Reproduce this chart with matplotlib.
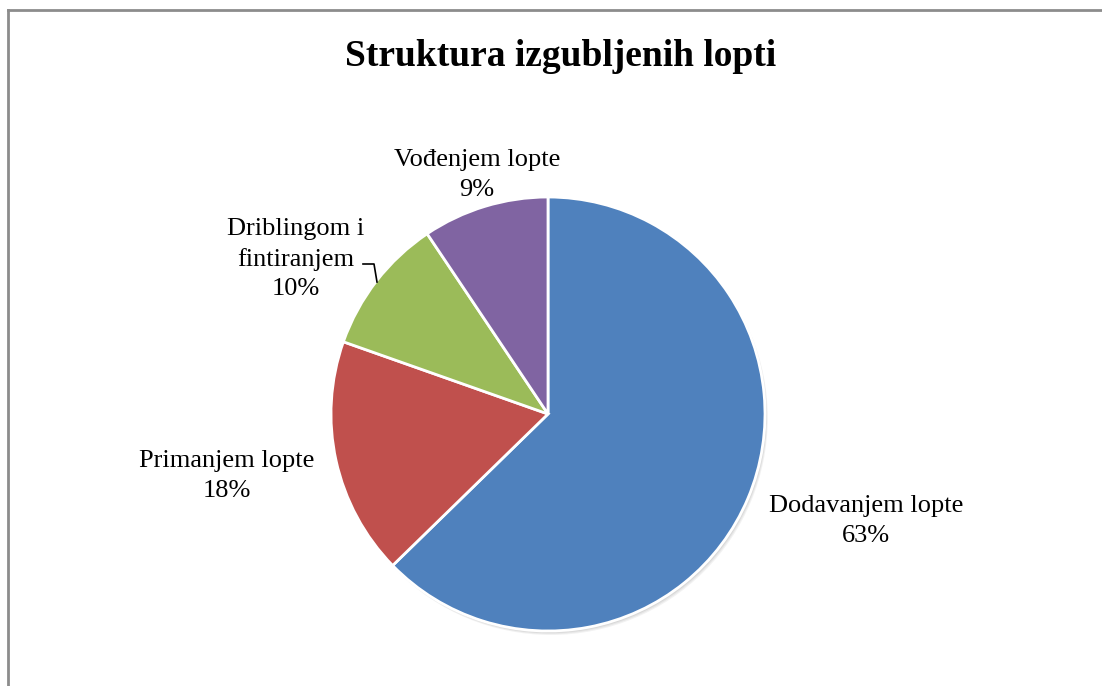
import matplotlib.pyplot as plt
from matplotlib.lines import Line2D

# data
categories = ["Dodavanjem lopte", "Primanjem lopte", "Driblingom i\nfintiranjem", "Vođenjem lopte"]
shares = [62.7, 17.7, 10.2, 9.4]
colors = ["#4F81BD", "#C0504D", "#9BBB59", "#8064A2"]

W, H = 1102, 686
plt.rcParams['font.family'] = ['Liberation Serif', 'DejaVu Serif']

fig = plt.figure(figsize=(W / 100, H / 100), dpi=100)
ax = fig.add_axes([0, 0, 1, 1])

cx, cy, r = 548, H - 414, 217

# soft shadow
for k, a in [(4, 0.05), (3, 0.05), (2, 0.06)]:
    ax.add_patch(plt.Circle((cx + k * 0.7, cy - k), r, color="black", alpha=a, lw=0, zorder=0))

ax.pie(shares, colors=colors, startangle=90, counterclock=False,
       center=(cx, cy), radius=r, frame=True,
       wedgeprops=dict(edgecolor="white", linewidth=2))
ax.set_xlim(0, W)
ax.set_ylim(0, H)
ax.set_aspect("equal")
ax.axis("off")

# label positions (px from top-left)
label_pos = [(866, 521), (227, 476), (296, 259), (477, 175)]
for name, v, (x, y) in zip(categories, shares, label_pos):
    ax.text(x, H - y, f"{name}\n{round(v)}%", ha="center", va="center",
            fontsize=19, linespacing=1.45)

# leader line for small slice
ax.plot([363, 374, 377], [H - 264, H - 264, H - 282], color="black", lw=1.2)

fig.text(561 / W, 1 - 56 / H, "Struktura izgubljenih lopti", ha="center", va="center",
         fontsize=27, fontweight="bold")

# chart border (left and top visible)
fig.add_artist(Line2D([8 / W, 8 / W], [0, 1 - 9.5 / H], color="#8c8c8c", lw=2, transform=fig.transFigure))
fig.add_artist(Line2D([8 / W, 1], [1 - 9.5 / H, 1 - 9.5 / H], color="#8c8c8c", lw=2, transform=fig.transFigure))

fig.savefig("out.png", dpi=100)
